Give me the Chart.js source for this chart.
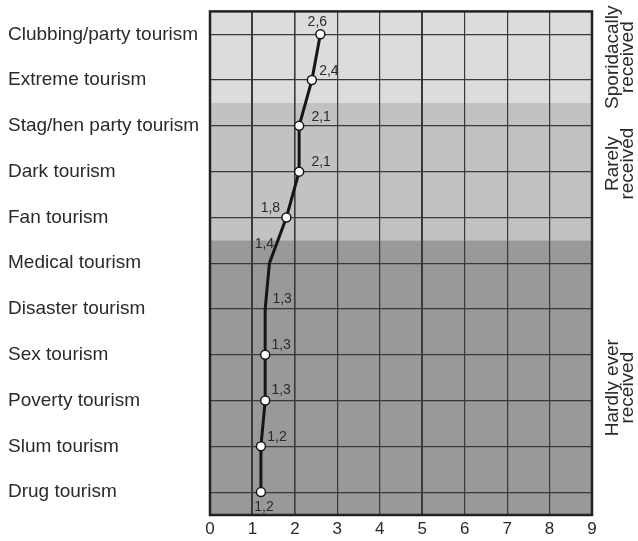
<!DOCTYPE html>
<html>
<head>
<meta charset="utf-8">
<script src="https://cdn.jsdelivr.net/npm/chart.js@4/dist/chart.umd.min.js"></script>
<style>
  html, body { margin: 0; padding: 0; background: #fff; }
  #wrap { width: 638px; height: 541px; }
</style>
</head>
<body>
<div id="wrap"><canvas id="chart"></canvas></div>
<script>
// data
const categories = [
    'Clubbing/party tourism',
    'Extreme tourism',
    'Stag/hen party tourism',
    'Dark tourism',
    'Fan tourism',
    'Medical tourism',
    'Disaster tourism',
    'Sex tourism',
    'Poverty tourism',
    'Slum tourism',
    'Drug tourism'
];
const values = [2.6, 2.4, 2.1, 2.1, 1.8, 1.4, 1.3, 1.3, 1.3, 1.2, 1.2];
const xTicks = [0, 1, 2, 3, 4, 5, 6, 7, 8, 9];
const noMarker = ['Medical tourism', 'Disaster tourism'];

// reception groups: first and last category of each band
const bandNames = [['Sporidacally', 'received'], ['Rarely', 'received'], ['Hardly ever', 'received']];
const bandFirst = ['Clubbing/party tourism', 'Stag/hen party tourism', 'Medical tourism'];
const bandLast = ['Extreme tourism', 'Fan tourism', 'Drug tourism'];

const bandColors = ['#dcdcdc', '#c2c2c2', '#999999'];
const FONT = 'Arial, "Liberation Sans", Helvetica, sans-serif';

// label offsets from each point (px)
const labelShift = {
    0: [-3, -12], 1: [17, -9], 2: [22, -9], 3: [22, -9], 4: [-16, -9],
    5: [-5, -19], 6: [17, -10], 7: [16, -10], 8: [16, -10], 9: [16, -9], 10: [3, 15]
};
// small vertical nudges of the group names (px)
const nameShift = [0, -8, 10];

const bandsPlugin = {
    id: 'bands',
    beforeDraw(chart) {
        const { ctx, chartArea, scales } = chart;
        const y = scales.y;
        ctx.save();
        bandFirst.forEach((first, i) => {
            const a = categories.indexOf(first) - 0.5;
            const b = categories.indexOf(bandLast[i]) + 0.5;
            const top = Math.max(chartArea.top, y.getPixelForValue(a));
            const bot = Math.min(chartArea.bottom, y.getPixelForValue(b));
            ctx.fillStyle = bandColors[i];
            ctx.fillRect(chartArea.left, top, chartArea.right - chartArea.left, bot - top);
        });
        ctx.restore();
    },
    afterDraw(chart) {
        const { ctx, chartArea, scales } = chart;
        const y = scales.y;
        ctx.save();
        // frame
        ctx.strokeStyle = '#222';
        ctx.lineWidth = 2.5;
        ctx.strokeRect(chartArea.left, chartArea.top, chartArea.right - chartArea.left, chartArea.bottom - chartArea.top);

        // rotated group names on the right
        ctx.fillStyle = '#2a2a2a';
        ctx.font = '19px ' + FONT;
        ctx.textAlign = 'center';
        ctx.textBaseline = 'middle';
        bandNames.forEach((lines, i) => {
            const a = y.getPixelForValue(categories.indexOf(bandFirst[i]) - 0.5);
            const b = y.getPixelForValue(categories.indexOf(bandLast[i]) + 0.5);
            const cy = (a + b) / 2 + nameShift[i];
            ctx.save();
            ctx.translate(chartArea.right + 21, cy);
            ctx.rotate(-Math.PI / 2);
            lines.forEach((t, k) => ctx.fillText(t, 0, k * 15));
            ctx.restore();
        });

        // value labels
        const meta = chart.getDatasetMeta(0);
        ctx.font = '14px ' + FONT;
        ctx.fillStyle = '#2a2a2a';
        meta.data.forEach((pt, i) => {
            const s = labelShift[i] || [10, -10];
            ctx.fillText(values[i].toFixed(1).replace('.', ','), pt.x + s[0], pt.y + s[1]);
        });
        ctx.restore();
    }
};

const gridWidth = (c) => {
    const v = c.tick ? c.tick.value : 0;
    if (v === 1 || v === 5) return 2;
    if (v === 2) return 1.6;
    return 1.2;
};

new Chart(document.getElementById('chart'), {
    type: 'line',
    data: {
        labels: categories,
        datasets: [{
            data: values,
            borderColor: '#161616',
            borderWidth: 3,
            tension: 0,
            pointRadius: (c) => noMarker.includes(categories[c.dataIndex]) ? 0 : 4.5,
            pointBackgroundColor: '#fff',
            pointBorderColor: '#161616',
            pointBorderWidth: 1.5
        }]
    },
    options: {
        indexAxis: 'y',
        responsive: true,
        maintainAspectRatio: false,
        animation: false,
        layout: { padding: { left: 8, top: 10, right: 46, bottom: 0 } },
        plugins: {
            legend: { display: false },
            tooltip: { enabled: false }
        },
        scales: {
            x: {
                type: 'linear',
                min: 0,
                max: 9,
                afterBuildTicks: (s) => { s.ticks = xTicks.map(v => ({ value: v })); },
                afterFit: (s) => { s.height = 26; },
                ticks: { color: '#2a2a2a', font: { size: 17, family: FONT }, padding: 4 },
                grid: { color: '#3a3a3a', lineWidth: gridWidth, drawTicks: false },
                border: { display: false }
            },
            y: {
                type: 'category',
                offset: true,
                afterFit: (s) => { s.width = 202; },
                ticks: { color: '#2a2a2a', crossAlign: 'far', font: { size: 19, family: FONT }, padding: 0 },
                grid: { offset: false, color: '#3a3a3a', lineWidth: 1.2, drawTicks: false },
                border: { display: false }
            }
        }
    },
    plugins: [bandsPlugin]
});
</script>
</body>
</html>
